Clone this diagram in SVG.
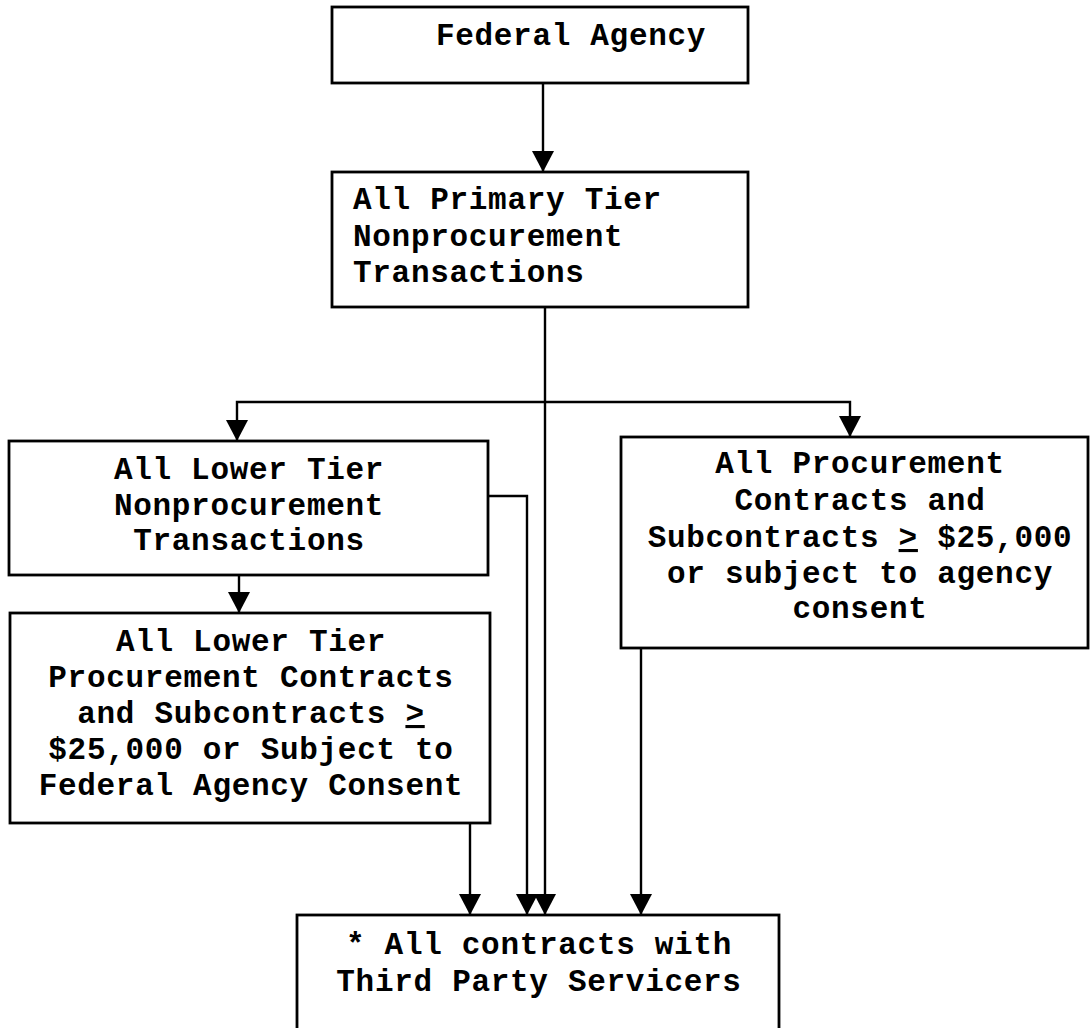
<svg xmlns="http://www.w3.org/2000/svg" width="1092" height="1028" viewBox="0 0 1092 1028">
<style>
  .box { fill: #fff; stroke: #000; stroke-width: 2.8; }
  .lbl { font-family: "Liberation Mono", "Courier New", monospace; font-weight: bold; font-size: 31px; letter-spacing: 0.7px; fill: #000; }
  .mid { text-anchor: middle; }
  .conn { fill: none; stroke: #000; stroke-width: 2.4; }
  .u { text-decoration: underline; }
</style>
<defs>
  <marker id="arr" markerUnits="userSpaceOnUse" markerWidth="22" markerHeight="22" refX="21" refY="11" orient="auto">
    <path d="M0,0 L21,11 L0,22 z" fill="#000"/>
  </marker>
</defs>
<rect width="1092" height="1028" fill="#fff"/>
<g id="connectors">
  <path class="conn" d="M543,83 V172" marker-end="url(#arr)"/>
  <path class="conn" d="M545,307 V915" marker-end="url(#arr)"/>
  <path class="conn" d="M545,402 H237 V441" marker-end="url(#arr)"/>
  <path class="conn" d="M545,402 H850 V437" marker-end="url(#arr)"/>
  <path class="conn" d="M239,575 V613" marker-end="url(#arr)"/>
  <path class="conn" d="M488,496 H527 V915" marker-end="url(#arr)"/>
  <path class="conn" d="M470,823 V915" marker-end="url(#arr)"/>
  <path class="conn" d="M641,648 V915" marker-end="url(#arr)"/>
</g>
<g id="federal-agency">
  <rect class="box" x="332" y="7" width="416" height="76"/>
  <text class="lbl mid" x="571" y="45">Federal Agency</text>
</g>
<g id="primary-tier">
  <rect class="box" x="332" y="172" width="416" height="135"/>
  <text class="lbl" x="353" y="209">All Primary Tier</text>
  <text class="lbl" x="353" y="246">Nonprocurement</text>
  <text class="lbl" x="353" y="282">Transactions</text>
</g>
<g id="lower-tier-nonprocurement">
  <rect class="box" x="9" y="441" width="479" height="134"/>
  <text class="lbl mid" x="249" y="479">All Lower Tier</text>
  <text class="lbl mid" x="249" y="515">Nonprocurement</text>
  <text class="lbl mid" x="249" y="550">Transactions</text>
</g>
<g id="lower-tier-procurement">
  <rect class="box" x="10" y="613" width="480" height="210"/>
  <text class="lbl mid" x="251" y="651">All Lower Tier</text>
  <text class="lbl mid" x="251" y="687">Procurement Contracts</text>
  <text class="lbl mid" x="251" y="723">and Subcontracts <tspan class="u">&gt;</tspan></text>
  <text class="lbl mid" x="251" y="759">$25,000 or Subject to</text>
  <text class="lbl mid" x="251" y="795">Federal Agency Consent</text>
</g>
<g id="procurement-contracts">
  <rect class="box" x="621" y="437" width="467" height="211"/>
  <text class="lbl mid" x="860" y="473">All Procurement</text>
  <text class="lbl mid" x="860" y="510">Contracts and</text>
  <text class="lbl mid" x="860" y="547">Subcontracts <tspan class="u">&gt;</tspan> $25,000</text>
  <text class="lbl mid" x="860" y="583">or subject to agency</text>
  <text class="lbl mid" x="860" y="618">consent</text>
</g>
<g id="third-party-servicers">
  <rect class="box" x="297" y="915" width="482" height="130"/>
  <text class="lbl mid" x="539" y="954">* All contracts with</text>
  <text class="lbl mid" x="539" y="991">Third Party Servicers</text>
</g>
</svg>
